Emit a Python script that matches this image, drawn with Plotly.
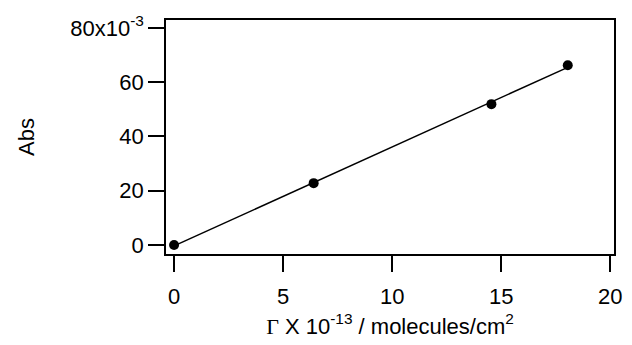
import numpy as np
import plotly.graph_objects as go

# Data
gamma = [0.0, 6.4, 14.55, 18.05]          # Γ x 10^-13 molecules/cm^2
absorb = [0.0, 0.0228, 0.0519, 0.0662]    # Abs

x_ticks = [0, 5, 10, 15, 20]
x_ticktext = ["0", "5", "10", "15", "20"]
y_ticks = [0, 0.02, 0.04, 0.06, 0.08]
y_ticktext = ["0", "20", "40", "60", "80x10<sup>-3</sup>"]

slope, intercept = np.polyfit(gamma, absorb, 1)
fit_x = np.array([min(gamma), max(gamma)])
fit_y = slope * fit_x + intercept

FONT = "Liberation Sans, Arial, sans-serif"
FS = 22

fig = go.Figure()
fig.add_trace(go.Scatter(x=fit_x, y=fit_y, mode="lines",
                         line=dict(color="black", width=1.5), showlegend=False))
fig.add_trace(go.Scatter(x=gamma, y=absorb, mode="markers",
                         marker=dict(color="black", size=10), showlegend=False))

fig.update_layout(
    width=632, height=345,
    margin=dict(l=166, r=10, t=20, b=89),
    paper_bgcolor="white", plot_bgcolor="white",
    font=dict(family=FONT, size=FS, color="black"),
    xaxis=dict(range=[-0.37, 20.17], tickvals=x_ticks, ticktext=x_ticktext,
               showline=True, linecolor="black", linewidth=1.5, mirror=True,
               ticks="outside", ticklen=16, tickwidth=1.5, tickcolor="black",
               ticklabelstandoff=6,
               showgrid=False, zeroline=False,
               title=dict(text='<span style="font-family:Liberation Serif, Times New Roman, serif">Γ</span> X 10<sup>-13</sup> / molecules/cm<sup>2</sup>',
                          font=dict(size=FS), standoff=10)),
    yaxis=dict(range=[-0.0033, 0.0829], tickvals=y_ticks, ticktext=y_ticktext,
               showline=True, linecolor="black", linewidth=1.5, mirror=True,
               ticks="outside", ticklen=16, tickwidth=1.5, tickcolor="black",
               showgrid=False, zeroline=False,
               title=dict(text="Abs", font=dict(size=FS), standoff=30)),
)

fig.write_html("out.html")
